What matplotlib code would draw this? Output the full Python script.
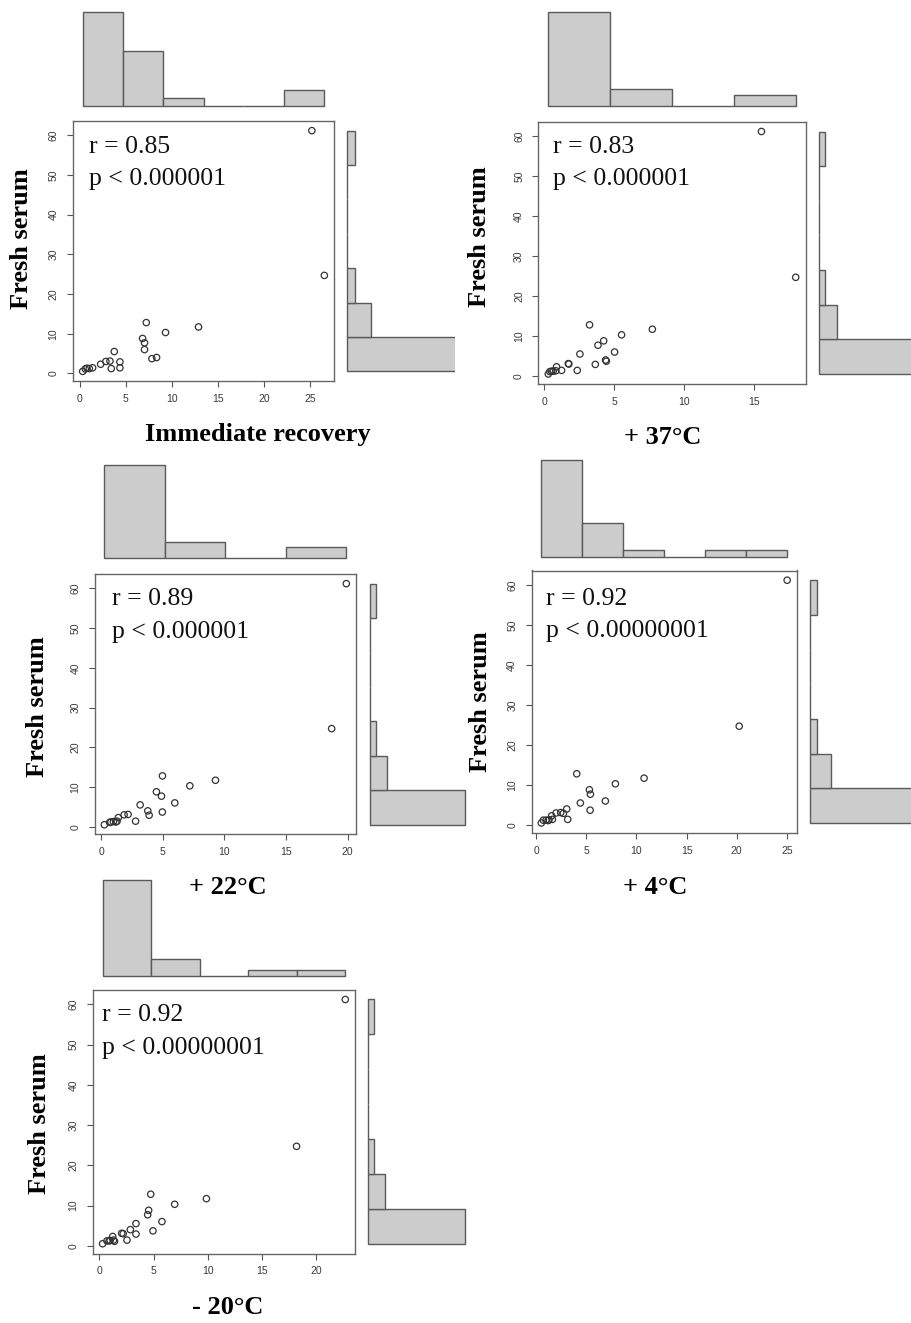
import numpy as np
import matplotlib
matplotlib.use("Agg")
import matplotlib.pyplot as plt
from matplotlib.transforms import Bbox, TransformedBbox

W, H = 911, 1323

# ---------------- data ----------------
fresh_serum = [61.2, 24.7, 12.8, 11.7, 10.3, 8.8, 7.7, 6.0, 5.5, 4.0, 3.7,
               3.1, 3.0, 2.9, 2.3, 1.4, 1.4, 1.3, 1.2, 1.2, 1.1, 0.5]
immediate_recovery = [25.2, 26.55, 7.23, 12.9, 9.32, 6.83, 7.04, 7.04, 3.76, 8.35, 7.84,
                      3.29, 2.85, 4.37, 2.28, 4.37, 1.41, 0.8, 3.43, 1.05, 0.61, 0.33]
plus_37 = [15.53, 17.98, 3.24, 7.73, 5.53, 4.25, 3.84, 5.03, 2.55, 4.39, 4.44,
           1.72, 1.76, 3.65, 0.88, 2.36, 1.24, 0.83, 0.52, 0.64, 0.4, 0.29]
plus_22 = [19.89, 18.7, 4.98, 9.28, 7.2, 4.49, 4.9, 5.98, 3.17, 3.79, 4.97,
           2.19, 1.87, 3.9, 1.4, 2.8, 1.3, 1.0, 1.2, 0.8, 0.7, 0.27]
plus_4 = [25.03, 20.25, 4.06, 10.77, 7.91, 5.32, 5.42, 6.91, 4.42, 3.06, 5.39,
          2.46, 2.0, 2.73, 1.56, 3.16, 1.63, 1.3, 1.0, 0.73, 1.2, 0.53]
minus_20 = [22.7, 18.2, 4.74, 9.88, 6.95, 4.55, 4.46, 5.78, 3.38, 2.86, 4.95,
            2.06, 2.2, 3.38, 1.23, 2.55, 1.3, 1.0, 0.9, 0.7, 1.4, 0.3]

panel_x = [immediate_recovery, plus_37, plus_22, plus_4, minus_20]
panel_labels = ["Immediate recovery", "+ 37°C", "+ 22°C", "+ 4°C", "- 20°C"]
r_values = ["0.85", "0.83", "0.89", "0.92", "0.92"]
p_values = ["0.000001", "0.000001", "0.000001", "0.00000001", "0.00000001"]
y_label = "Fresh serum"
x_tick_step = 5
y_tick_step = 10

# ---------------- layout (pixels) ----------------
boxes = [(73, 121, 334, 381), (538.4, 121.8, 805.6, 383.7), (94.7, 574, 356, 834.4),
         (531.5, 570.5, 797, 832.7), (92.9, 989.7, 355, 1253.5)]
top_hist = [(106, 7.8), (106, 5.5), (558, 5.47), (557, 6.9), (976, 5.65)]
right_hist = [(347, 8.0, 455), (819, 6.0, None), (370, 5.6, None), (810, 6.9, None), (368, 5.7, None)]
text_pos = [(89.3, 153.3, 185.5), (553.3, 153.3, 185.5), (111.7, 605, 638),
            (546, 605, 636.7), (101.7, 1020.7, 1054)]
ylabel_pos = [(22, 239), (480, 237), (38, 707), (481, 702), (40, 1124)]
xlabel_pos = [(258, 434), (663, 437), (228, 888), (655, 887), (228, 1308)]

FILL = "#cccccc"
EDGE = "#5a5a5a"
SERIF = ["Liberation Serif", "DejaVu Serif"]
SANS = ["Liberation Sans", "DejaVu Sans"]

fig = plt.figure(figsize=(W / 100, H / 100), dpi=100)
fig.patch.set_facecolor("white")


def rect(x0, y0, x1, y1):
    return [x0 / W, 1 - y1 / H, (x1 - x0) / W, (y1 - y0) / H]


def fx(x):
    return x / W


def fy(y):
    return 1 - y / H


def hist_counts(v, step):
    v = np.asarray(v)
    edges = np.arange(0, np.ceil(v.max() / step) * step + step / 2, step)
    counts = []
    for i in range(len(edges) - 1):
        lo, hi = edges[i], edges[i + 1]
        if i == 0:
            counts.append(int(np.sum((v >= lo) & (v <= hi))))
        else:
            counts.append(int(np.sum((v > lo) & (v <= hi))))
    return np.array(counts)


yv = np.array(fresh_serum)
for i, xv in enumerate(panel_x):
    xv = np.array(xv)
    x0, y0, x1, y1 = boxes[i]
    ax = fig.add_axes(rect(x0, y0, x1, y1))
    ax.scatter(xv, yv, s=21, facecolors="none", edgecolors="#333333", linewidths=0.9)
    xr = xv.max() - xv.min()
    yr = yv.max() - yv.min()
    xlo, xhi = xv.min() - 0.04 * xr, xv.max() + 0.04 * xr
    ylo, yhi = yv.min() - 0.04 * yr, yv.max() + 0.04 * yr
    ax.set_xlim(xlo, xhi)
    ax.set_ylim(ylo, yhi)
    xt = np.arange(0, xhi + 0.001, x_tick_step)
    yt = np.arange(0, yhi + 0.001, y_tick_step)
    ax.set_xticks(xt)
    ax.set_yticks(yt)
    ax.set_xticklabels([f"{t:g}" for t in xt], family=SANS, fontsize=7.5, color="#3a3a3a")
    ax.set_yticklabels([f"{t:g}" for t in yt], family=SANS, fontsize=7.5, color="#3a3a3a",
                       rotation=90, va="center")
    ax.tick_params(axis="both", direction="out", length=4.3, width=0.8, color="#555555")
    ax.tick_params(axis="x", pad=5)
    ax.tick_params(axis="y", pad=6)
    for sp in ax.spines.values():
        sp.set_color("#666666")
        sp.set_linewidth(1.0)

    # statistics text
    tx, ry, py = text_pos[i]
    fig.text(fx(tx), fy(ry), f"r = {r_values[i]}", family=SERIF, fontsize=18.5,
             ha="left", va="baseline", color="#111111")
    fig.text(fx(tx), fy(py), f"p < {p_values[i]}", family=SERIF, fontsize=18.5,
             ha="left", va="baseline", color="#111111")

    # labels
    lx, ly = ylabel_pos[i]
    fig.text(fx(lx), fy(ly), y_label, family=SERIF, fontsize=19, fontweight="bold",
             rotation=90, ha="center", va="center")
    bx, by = xlabel_pos[i]
    fig.text(fx(bx), fy(by), panel_labels[i], family=SERIF, fontsize=19, fontweight="bold",
             ha="center", va="center")

    cx = hist_counts(xv, x_tick_step)
    cy = hist_counts(yv, y_tick_step)
    top = max(cx.max(), cy.max())

    # top histogram (barplot with space=0)
    base, sc = top_hist[i]
    hb = base + 0.04 * top * sc
    ht = hb - 1.08 * top * sc
    axt = fig.add_axes(rect(x0, ht, x1, hb))
    axt.patch.set_visible(False)
    n = len(cx)
    axt.bar(np.arange(n), cx, width=1.0, align="edge", color=FILL, edgecolor=EDGE, linewidth=1.0)
    axt.set_xlim(-0.04 * n, 1.04 * n)
    axt.set_ylim(-0.04 * top, 1.04 * top)
    axt.axis("off")

    # right histogram (horizontal)
    start, sc2, clip = right_hist[i]
    rl = start - 0.04 * top * sc2
    rr = rl + 1.08 * top * sc2
    axr = fig.add_axes(rect(rl, y0, rr, y1))
    axr.patch.set_visible(False)
    m = len(cy)
    bars = axr.barh(np.arange(m), cy, height=1.0, align="edge", color=FILL, edgecolor=EDGE,
                    linewidth=1.0)
    axr.set_ylim(-0.04 * m, 1.04 * m)
    axr.set_xlim(-0.04 * top, 1.04 * top)
    axr.axis("off")
    if clip is not None:
        cb = TransformedBbox(Bbox([[rl / W - 0.01, fy(y1) - 0.01], [clip / W, fy(y0) + 0.01]]),
                             fig.transFigure)
        for b in bars:
            b.set_clip_box(cb)
            b.set_clip_on(True)

fig.savefig("out.png", dpi=100, facecolor="white")
